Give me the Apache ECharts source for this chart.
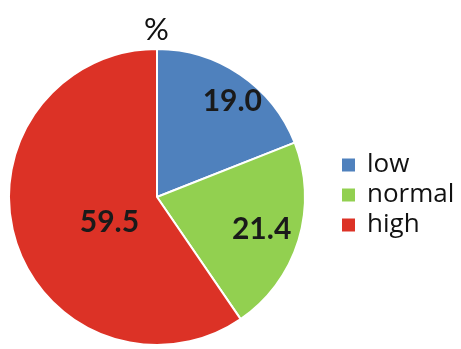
<!DOCTYPE html>
<html>
<head>
<meta charset="utf-8">
<script src="https://cdn.jsdelivr.net/npm/echarts@6/dist/echarts.min.js"></script>
<style>
    html,body{margin:0;padding:0;background:#fff;}
    #chart{width:461px;height:349px;}
</style>
</head>
<body>
<div id="chart"></div>
<script>
    // data
    const categories = ['low', 'normal', 'high']
    const values = [19.0, 21.4, 59.5]
    const colors = ['#4F81BD', '#92D050', '#DC3226']
    // nudges to push the labels out from the r/2 ring
    const labelOffsets = [[32, -32], [31, 10], [26, 3]]

    const mychart = echarts.init(document.getElementById('chart'))
    mychart.setOption({
        animation: false,
        title: {
            text: '%',
            left: 139,
            top: 9,
            textStyle: {
                fontFamily: 'Lato',
                fontWeight: 'normal',
                fontSize: 31,
                color: '#111'
            }
        },
        legend: {
            orient: 'vertical',
            left: 335,
            top: 147,
            icon: 'rect',
            itemWidth: 15,
            itemHeight: 15,
            itemGap: 4,
            data: categories,
            textStyle: {
                fontFamily: 'Open Sans',
                fontSize: 26,
                lineHeight: 22,
                color: '#111',
                padding: [0, 0, 0, 6]
            }
        },
        series: [{
            type: 'pie',
            center: [157, 197],
            radius: [0, 148],
            startAngle: 90,
            clockwise: true,
            avoidLabelOverlap: false,
            itemStyle: {
                borderColor: '#fff',
                borderWidth: 2
            },
            label: {
                show: true,
                position: 'inside',
                formatter: (p) => p.value.toFixed(1),
                fontFamily: 'Lato',
                fontWeight: 'bold',
                fontSize: 30,
                color: '#1a1a1a'
            },
            labelLine: {show: false},
            data: categories.map((name, i) => ({
                name,
                value: values[i],
                itemStyle: {color: colors[i]},
                label: {offset: labelOffsets[i]}
            }))
        }]
    })
</script>
</body>
</html>
